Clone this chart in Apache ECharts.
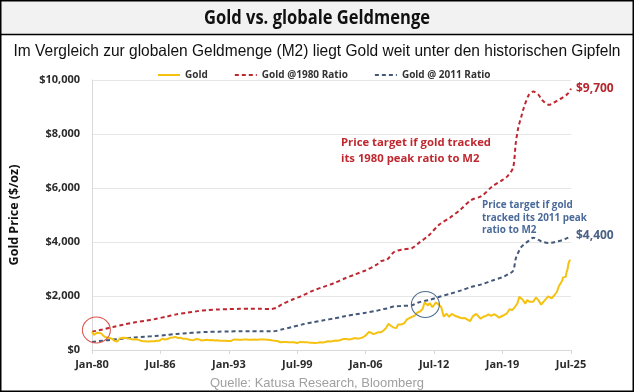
<!DOCTYPE html>
<html>
<head>
<meta charset="utf-8">
<script src="https://cdn.jsdelivr.net/npm/echarts@6/dist/echarts.min.js"></script>
<style>
html,body{margin:0;padding:0;background:#fff;}
#c{width:634px;height:392px;}
</style>
</head>
<body>
<div id="c"></div>
<script>
// ---- data ----
const tickLabels = ["Jan-80","Jul-86","Jan-93","Jul-99","Jan-06","Jul-12","Jan-19","Jul-25"];
const seriesNames = ["Gold","Gold @1980 Ratio","Gold @ 2011 Ratio"];
const yTicks = [0,2000,4000,6000,8000,10000];

const goldDates = ["1980-01","1980-02","1980-03","1980-05","1980-07","1980-09","1980-11","1981-01","1981-03","1981-06","1981-09","1981-12","1982-03","1982-06","1982-09","1982-12","1983-02","1983-05","1983-08","1983-12","1984-03","1984-06","1984-09","1984-12","1985-02","1985-06","1985-09","1985-12","1986-03","1986-06","1986-09","1986-12","1987-03","1987-06","1987-09","1987-12","1988-03","1988-06","1988-09","1988-12","1989-03","1989-06","1989-09","1989-12","1990-03","1990-06","1990-08","1990-12","1991-03","1991-06","1991-09","1991-12","1992-03","1992-06","1992-09","1992-12","1993-03","1993-07","1993-09","1993-12","1994-03","1994-06","1994-09","1994-12","1995-03","1995-06","1995-09","1995-12","1996-02","1996-06","1996-09","1996-12","1997-03","1997-06","1997-09","1997-12","1998-03","1998-06","1998-09","1998-12","1999-03","1999-07","1999-10","1999-12","2000-03","2000-06","2000-09","2000-12","2001-03","2001-06","2001-09","2001-12","2002-03","2002-06","2002-09","2002-12","2003-03","2003-06","2003-09","2003-12","2004-03","2004-06","2004-09","2004-12","2005-03","2005-06","2005-09","2005-12","2006-02","2006-05","2006-07","2006-10","2006-12","2007-03","2007-06","2007-09","2007-12","2008-03","2008-06","2008-09","2008-10","2008-12","2009-02","2009-04","2009-06","2009-09","2009-12","2010-02","2010-06","2010-09","2010-12","2011-03","2011-06","2011-08","2011-09","2011-12","2012-02","2012-05","2012-09","2012-12","2013-03","2013-06","2013-09","2013-12","2014-03","2014-06","2014-09","2014-12","2015-03","2015-06","2015-09","2015-12","2016-03","2016-07","2016-09","2016-12","2017-03","2017-06","2017-09","2017-12","2018-03","2018-06","2018-09","2018-12","2019-03","2019-06","2019-09","2019-12","2020-03","2020-06","2020-08","2020-10","2020-12","2021-03","2021-05","2021-08","2021-12","2022-03","2022-06","2022-09","2022-12","2023-03","2023-05","2023-09","2023-12","2024-03","2024-05","2024-07","2024-09","2024-10","2024-12","2025-01","2025-02","2025-03","2025-04","2025-05","2025-06","2025-07"];
const goldValues = [680,660,560,515,640,670,625,560,500,460,445,410,330,315,440,450,495,440,415,385,395,375,340,320,300,318,325,325,345,343,418,390,408,450,460,486,445,452,413,420,390,368,362,410,393,352,395,378,363,368,349,361,344,341,345,335,330,392,355,383,384,386,392,383,382,387,384,387,405,385,383,369,352,341,323,289,296,293,289,291,287,256,300,290,286,285,273,272,263,270,283,276,294,321,314,333,352,346,378,407,406,392,406,442,427,430,457,510,555,675,633,586,629,655,655,712,803,968,889,829,806,816,943,890,945,996,1134,1095,1233,1271,1391,1424,1528,1756,1800,1652,1742,1586,1760,1688,1593,1234,1348,1225,1336,1279,1241,1202,1178,1181,1125,1068,1246,1337,1326,1157,1231,1260,1315,1264,1325,1282,1198,1250,1300,1359,1511,1480,1591,1732,1968,1900,1858,1718,1850,1785,1790,1948,1837,1681,1798,1911,1990,1916,2027,2158,2350,2400,2571,2690,2648,2709,2895,2980,3193,3280,3350,3300];

const ratio1980Dates = ["1980-01","1981-01","1982-01","1983-01","1984-01","1985-01","1986-01","1987-01","1988-01","1989-01","1990-01","1991-01","1992-01","1993-01","1994-01","1995-01","1996-01","1997-01","1997-07","1998-01","1999-01","2000-01","2001-01","2002-01","2003-01","2004-01","2005-01","2006-01","2007-01","2007-07","2008-01","2008-09","2009-06","2010-06","2011-01","2012-01","2013-01","2014-01","2015-01","2016-01","2017-01","2018-01","2019-01","2019-07","2020-01","2020-04","2020-07","2020-10","2021-01","2021-07","2021-12","2022-06","2022-10","2023-06","2023-09","2024-03","2024-09","2025-03","2025-07"];
const ratio1980Values = [680,760,850,940,1020,1080,1150,1230,1320,1380,1440,1480,1500,1515,1525,1530,1525,1520,1560,1680,1860,2020,2200,2340,2480,2650,2800,2950,3150,3300,3340,3620,3720,3780,3950,4250,4650,4900,5200,5550,5700,6050,6300,6450,6750,7650,8250,8600,8950,9450,9570,9450,9260,9080,9120,9230,9340,9480,9680];

const ratio2011Dates = ["1980-01","1981-01","1982-01","1983-01","1984-01","1985-01","1986-01","1987-01","1988-01","1989-01","1990-01","1991-01","1992-01","1993-01","1994-01","1995-01","1996-01","1997-01","1997-07","1998-01","1999-01","2000-01","2001-01","2002-01","2003-01","2004-01","2005-01","2006-01","2007-01","2007-07","2008-01","2008-09","2009-06","2010-06","2011-01","2012-01","2013-01","2014-01","2015-01","2016-01","2017-01","2018-01","2019-01","2019-07","2020-01","2020-04","2020-07","2020-10","2021-01","2021-07","2021-12","2022-06","2022-10","2023-06","2023-09","2024-03","2024-09","2025-03","2025-07"];
const ratio2011Values = [300,345,385,425,460,490,520,555,595,625,650,670,680,688,692,695,693,690,708,760,850,950,1030,1100,1170,1250,1320,1380,1450,1500,1540,1610,1630,1660,1760,1850,1970,2080,2200,2330,2430,2570,2700,2800,2930,3380,3620,3800,3900,4050,4160,4080,4010,3960,3975,4020,4070,4150,4220];

const endLabel1980 = "$9,700";
const endLabel2011 = "$4,400";
const circleMarks = [{date:"1980-06", value:740}, {date:"2011-09", value:1685}];
const note1980 = ["Price target if gold tracked","its 1980 peak ratio to M2"];
const note2011 = ["Price target if gold","tracked its 2011 peak","ratio to M2"];

// ---- helpers ----
function monthIndex(d){ const p=d.split("-"); return (parseInt(p[0])-1980)*12 + (parseInt(p[1])-1); }
function pairs(dates, vals){ return dates.map((d,i)=>[monthIndex(d), vals[i]]); }
const measureCtx = document.createElement("canvas").getContext("2d");
function fitScale(text, font, target){ measureCtx.font = font; const w = measureCtx.measureText(text).width; return w>0 ? target/w : 1; }

const titleFont = 'bold 20px "Open Sans"';
const titleText = "Gold vs. globale Geldmenge";
const subFont = '16.5px "Liberation Sans"';
const subText = "Im Vergleich zur globalen Geldmenge (M2) liegt Gold weit unter den historischen Gipfeln";
const footFont = '13px "Liberation Sans"';
const footText = "Quelle: Katusa Research, Bloomberg";
const note1980Font = 'bold 11px "Open Sans"';
const note2011Font = 'bold 10px "Open Sans"';

const chart = echarts.init(document.getElementById("c"), null, {renderer:"canvas"});
const RED = "#be2730", BLUE = "#44597a", GOLD = "#f5c211";

const option = {
  animation:false,
  backgroundColor:"#ffffff",
  textStyle:{fontFamily:"Open Sans"},
  grid:{left:91, right:63, top:80, bottom:42, containLabel:false},
  legend:{
    left:152, top:65, itemWidth:22, itemHeight:8, itemGap:26,
    itemStyle:{opacity:0},
    textStyle:{fontFamily:"Open Sans", fontWeight:"bold", fontSize:10, color:"#333"},
    data:seriesNames
  },
  xAxis:{
    type:"value", min:0, max:(tickLabels.length-1)*78, interval:78,
    axisLine:{show:true, lineStyle:{color:"#d9d9d9", width:1}},
    axisTick:{show:true, length:4, lineStyle:{color:"#d9d9d9"}},
    splitLine:{show:false},
    axisLabel:{margin:9, fontFamily:"Open Sans", fontWeight:"bold", fontSize:11, color:"#2b2b2b",
      formatter:(v)=>tickLabels[Math.round(v/78)] || ""}
  },
  yAxis:{
    type:"value", min:yTicks[0], max:yTicks[yTicks.length-1], interval:2000,
    name:"Gold Price ($/oz)", nameLocation:"middle", nameRotate:90, nameGap:71,
    nameTextStyle:{fontFamily:"Open Sans", fontWeight:"bold", fontSize:12.5, color:"#111"},
    axisLine:{show:true, lineStyle:{color:"#d9d9d9", width:1}},
    axisTick:{show:false},
    splitLine:{show:true, lineStyle:{color:"#e6e6e6", width:1}},
    axisLabel:{margin:12, fontFamily:"Open Sans", fontWeight:"bold", fontSize:11, color:"#2b2b2b",
      formatter:(v)=>"$"+v.toLocaleString("en-US")}
  },
  series:[
    {name:seriesNames[0], type:"line", symbol:"none", z:3,
     lineStyle:{color:GOLD, width:2}, itemStyle:{color:GOLD},
     data:pairs(goldDates, goldValues),
     markPoint:{symbol:"circle", symbolSize:[28,26], silent:true, label:{show:false},
       data:[
         {coord:[monthIndex(circleMarks[0].date), circleMarks[0].value], itemStyle:{color:"rgba(0,0,0,0)", borderColor:"#d9534f", borderWidth:1}},
         {coord:[monthIndex(circleMarks[1].date), circleMarks[1].value], itemStyle:{color:"rgba(0,0,0,0)", borderColor:"#4f6d8f", borderWidth:1}}
       ]}
    },
    {name:seriesNames[1], type:"line", symbol:"none", smooth:0.3, z:2,
     lineStyle:{color:RED, width:2, type:[4,3]}, itemStyle:{color:RED},
     data:pairs(ratio1980Dates, ratio1980Values),
     endLabel:{show:true, formatter:endLabel1980, color:"#b5262d", fontFamily:"Open Sans", fontWeight:"bold", fontSize:12, distance:5}
    },
    {name:seriesNames[2], type:"line", symbol:"none", smooth:0.3, z:2,
     lineStyle:{color:BLUE, width:2, type:[4,3]}, itemStyle:{color:BLUE},
     data:pairs(ratio2011Dates, ratio2011Values),
     endLabel:{show:true, formatter:endLabel2011, color:"#4a6285", fontFamily:"Open Sans", fontWeight:"bold", fontSize:12, distance:5}
    }
  ],
  graphic:[
    {type:"rect", z:-10, shape:{x:0,y:0,width:634,height:34}, style:{fill:"#f2f2f2"}},
    {type:"line", z:10, shape:{x1:0,y1:34.5,x2:634,y2:34.5}, style:{stroke:"#000", lineWidth:1.5}},
    {type:"rect", z:10, shape:{x:0.75,y:0.75,width:632.5,height:390.5}, style:{fill:null, stroke:"#000", lineWidth:1.5}},
    {type:"text", z:10, x:317, y:18, scaleX:fitScale(titleText, titleFont, 226),
     style:{text:titleText, font:titleFont, fill:"#111", align:"center", verticalAlign:"middle"}},
    {type:"text", z:10, x:317, y:51, scaleX:fitScale(subText, subFont, 607),
     style:{text:subText, font:subFont, fill:"#111", align:"center", verticalAlign:"middle"}},
    {type:"text", z:10, x:317, y:383, scaleX:fitScale(footText, footFont, 214),
     style:{text:footText, font:footFont, fill:"#a0a0a0", align:"center", verticalAlign:"middle"}},
    {type:"text", z:10, x:341, y:135, scaleX:fitScale(note1980[0], note1980Font, 150),
     style:{text:note1980.join("\n"), font:note1980Font, lineHeight:16, fill:"#c0282f", align:"left", verticalAlign:"top"}},
    {type:"text", z:10, x:482, y:199, scaleX:fitScale(note2011[1], note2011Font, 105),
     style:{text:note2011.join("\n"), font:note2011Font, lineHeight:12.5, fill:"#4a6a9a", align:"left", verticalAlign:"top"}}
  ]
};
chart.setOption(option);
</script>
</body>
</html>
